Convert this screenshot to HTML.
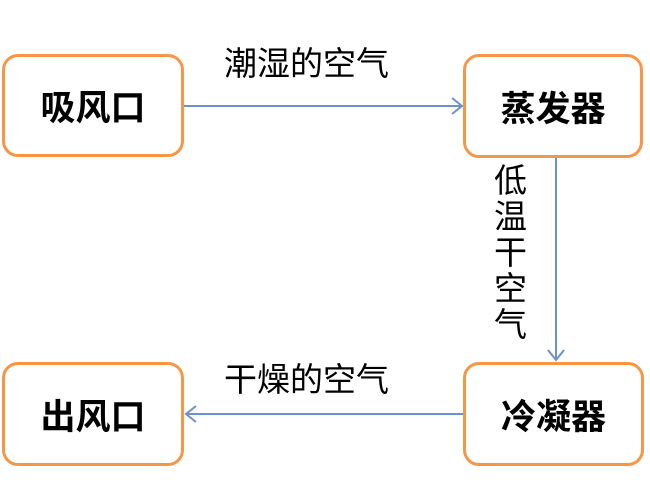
<!DOCTYPE html>
<html><head><meta charset="utf-8"><style>
body{margin:0;width:650px;height:500px;background:#fff;position:relative;overflow:hidden;font-family:"Liberation Sans","Noto Sans CJK SC",sans-serif}
.b{position:absolute;border:3px solid #f79646;border-radius:16px;background:#fff;box-sizing:border-box;display:flex;align-items:center;justify-content:center;font-size:35px;font-weight:bold;color:#000}
.t{position:absolute;font-size:33px;color:#000;white-space:nowrap;line-height:36px}
</style></head><body>
<svg width="650" height="500" style="position:absolute;left:0;top:0">
<g stroke="#6f90cf" stroke-width="2" fill="none">
<line x1="183" y1="106" x2="462" y2="106"/><polyline points="452,98 462,106 452,114"/>
<line x1="556" y1="156" x2="556" y2="360"/><polyline points="548,350 556,360 564,350"/>
<line x1="464" y1="414" x2="186" y2="414"/><polyline points="196,406 186,414 196,422"/>
</g></svg>
<div class="b" style="left:2px;top:54px;width:182px;height:103px">吸风口</div>
<div class="b" style="left:463px;top:54px;width:180px;height:104px">蒸发器</div>
<div class="b" style="left:2px;top:362px;width:182px;height:104px">出风口</div>
<div class="b" style="left:463px;top:362px;width:181px;height:104px">冷凝器</div>
<div class="t" style="left:224px;top:46px">潮湿的空气</div>
<div class="t" style="left:224px;top:362px">干燥的空气</div>
<div class="t" style="left:494px;top:163px;width:34px;white-space:normal;line-height:36px">低温干空气</div>
</body></html>
